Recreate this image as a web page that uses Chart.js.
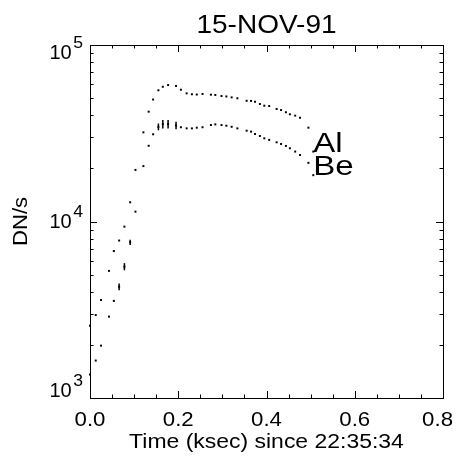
<!DOCTYPE html>
<html>
<head>
<meta charset="utf-8">
<script src="https://cdn.jsdelivr.net/npm/chart.js@4"></script>
<style>
  body { margin: 0; background: #fff; }
  canvas { display: block; }
</style>
</head>
<body>
<canvas id="lightCurve" width="461" height="460"></canvas>
<script>
// time in ksec since 22:35:34, shared by both filters
const times = [0, 0.013, 0.025, 0.043, 0.054, 0.066, 0.078, 0.091, 0.103, 0.121,
  0.133, 0.143, 0.155, 0.165, 0.177, 0.195, 0.206, 0.219, 0.231, 0.242,
  0.255, 0.274, 0.284, 0.298, 0.309, 0.321, 0.334, 0.355, 0.365, 0.374,
  0.385, 0.395, 0.406, 0.423, 0.433, 0.444, 0.453, 0.465, 0.476, 0.495, 0.506];
const alRate = [2570, 2950, 3590, 5250, 6800, 7800, 9350, 12850, 19600, 32000,
  41900, 49100, 55400, 58000, 59300, 58600, 55800, 53200, 52600, 52400,
  52800, 52300, 52100, 51400, 51100, 50500, 49900, 48300, 48200, 47700,
  46300, 45300, 45100, 43400, 42800, 41600, 40500, 39800, 38700, 34000, 24900];
const beRate = [1360, 1630, 1980, 2890, 3550, 4270, 5550, 7620, 11370, 20600,
  26850, 31200, 34400, 35600, 35600, 35000, 34200, 33700, 33700, 34000,
  34200, 35200, 35500, 35200, 34900, 34400, 33700, 32700, 32300, 31300,
  30500, 29600, 29000, 28100, 27500, 26800, 26000, 24900, 23800, 21500, 18300];
// half height of the little vertical bars on some Be points
const beErr = [0, 0, 0, 0, 0, 190, 260, 250, 0, 0,
  0, 0, 1500, 1950, 1950, 1700, 0, 0, 0, 0,
  0, 0, 0, 0, 0, 0, 0, 0, 0, 0,
  0, 0, 0, 0, 0, 0, 0, 0, 0, 0, 0];

const xTicks = [0, 0.2, 0.4, 0.6, 0.8];
const xTickLabels = ['0.0', '0.2', '0.4', '0.6', '0.8'];
const yTicks = [1e3, 1e4, 1e5];
const yTickExponents = ['3', '4', '5'];
const seriesNames = ['Al', 'Be'];
const plotTitle = '15-NOV-91';
const xTitle = 'Time (ksec) since 22:35:34';
const yTitle = 'DN/s';

const FAMILY = '"Liberation Sans", Arial, Helvetica, sans-serif';
const font = size => size + 'px ' + FAMILY;

function line(ctx, x1, y1, x2, y2) {
  ctx.beginPath();
  ctx.moveTo(x1, y1);
  ctx.lineTo(x2, y2);
  ctx.stroke();
}

// the original lettering is a bit wider than Liberation Sans, so stretch it
function text(ctx, str, x, y, size, align, sx) {
  ctx.save();
  ctx.font = font(size);
  const w = ctx.measureText(str).width * sx;
  const left = align === 'center' ? x - w / 2 : align === 'right' ? x - w : x;
  ctx.translate(left, y);
  ctx.scale(sx, 1);
  ctx.textAlign = 'left';
  ctx.textBaseline = 'alphabetic';
  ctx.fillText(str, 0, 0);
  ctx.restore();
  return w;
}

// IDL style frame: box, inward ticks on all sides, labels, titles
const idlAxes = {
  id: 'idlAxes',
  afterDatasetsDraw(chart) {
    const { ctx, chartArea: a, scales: { x, y } } = chart;
    ctx.save();
    ctx.strokeStyle = '#000';
    ctx.fillStyle = '#000';

    ctx.lineWidth = 1.5;
    beErr.forEach((e, i) => {
      if (!e) return;
      const px = x.getPixelForValue(times[i]);
      line(ctx, px, y.getPixelForValue(beRate[i] - e), px, y.getPixelForValue(beRate[i] + e));
    });

    ctx.lineWidth = 1;
    ctx.strokeRect(a.left + 0.5, a.top + 0.5, a.right - a.left, a.bottom - a.top);

    // x ticks every 0.05, major every 0.2
    for (let i = 0; i <= 16; i++) {
      const len = i % 4 === 0 ? 7 : 3.5;
      const px = Math.round(x.getPixelForValue(i * 0.05)) + 0.5;
      line(ctx, px, a.bottom, px, a.bottom - len);
      line(ctx, px, a.top, px, a.top + len);
    }
    // y ticks, log decades
    for (let d = 3; d <= 5; d++) {
      for (let k = 1; k <= 9; k++) {
        const v = k * Math.pow(10, d);
        if (v > 1e5) break;
        const len = k === 1 ? 7 : 3.5;
        const py = Math.round(y.getPixelForValue(v)) + 0.5;
        line(ctx, a.left, py, a.left + len, py);
        line(ctx, a.right, py, a.right - len, py);
      }
    }

    // x tick labels, last one kept inside the canvas
    const sx = 1.14;
    xTicks.forEach((v, i) => {
      ctx.font = font(19.5);
      const w = ctx.measureText(xTickLabels[i]).width * sx;
      let cx = x.getPixelForValue(v);
      if (cx + w / 2 > chart.width - 8) cx = chart.width - 8 - w / 2;
      text(ctx, xTickLabels[i], cx, a.bottom + 28, 19.5, 'center', sx);
    });

    // y tick labels as 10 with a raised exponent
    const midY = (a.top + a.bottom) / 2;
    yTicks.forEach((v, i) => {
      const py = y.getPixelForValue(v);
      const base = py + 6.6 - (py - midY) * 0.0425;
      ctx.font = font(16);
      const wExp = ctx.measureText(yTickExponents[i]).width * 1.1;
      const expLeft = a.left - 7 - wExp;
      text(ctx, '10', expLeft - 1.5, base, 20, 'right', 1.0);
      text(ctx, yTickExponents[i], expLeft, base - 11, 16, 'left', 1.1);
    });

    // titles
    const cx = (a.left + a.right) / 2;
    text(ctx, plotTitle, cx, 33, 25, 'center', 1.12);
    text(ctx, xTitle, cx, 448, 20.5, 'center', 1.12);
    ctx.save();
    ctx.translate(26.5, midY);
    ctx.rotate(-Math.PI / 2);
    text(ctx, yTitle, 0, 0, 20.5, 'center', 1.08);
    ctx.restore();

    // series names at the last point of each curve
    const n = times.length - 1;
    text(ctx, seriesNames[0], x.getPixelForValue(times[n]), y.getPixelForValue(alRate[n]), 28, 'left', 1.18);
    text(ctx, seriesNames[1], x.getPixelForValue(times[n]), y.getPixelForValue(beRate[n]), 28, 'left', 1.18);

    ctx.restore();
  }
};

new Chart(document.getElementById('lightCurve'), {
  type: 'scatter',
  data: {
    datasets: [
      { label: seriesNames[0], data: times.map((t, i) => ({ x: t, y: alRate[i] })), clip: false },
      { label: seriesNames[1], data: times.map((t, i) => ({ x: t, y: beRate[i] })), clip: false }
    ]
  },
  options: {
    responsive: false,
    animation: false,
    devicePixelRatio: 1,
    layout: { padding: { top: 45, right: 18, left: 0, bottom: 0 } },
    plugins: { legend: { display: false }, tooltip: { enabled: false }, title: { display: false } },
    elements: {
      point: { pointStyle: 'rect', radius: 1.4, borderWidth: 0, backgroundColor: '#000', hoverRadius: 1.4 }
    },
    scales: {
      x: {
        type: 'linear', min: 0, max: 0.8,
        grid: { display: false }, border: { display: false }, ticks: { display: false },
        afterFit: s => { s.height = 62; }
      },
      y: {
        type: 'logarithmic', min: 1000, max: 100000,
        grid: { display: false }, border: { display: false }, ticks: { display: false },
        afterFit: s => { s.width = 90; }
      }
    }
  },
  plugins: [idlAxes]
});
</script>
</body>
</html>
